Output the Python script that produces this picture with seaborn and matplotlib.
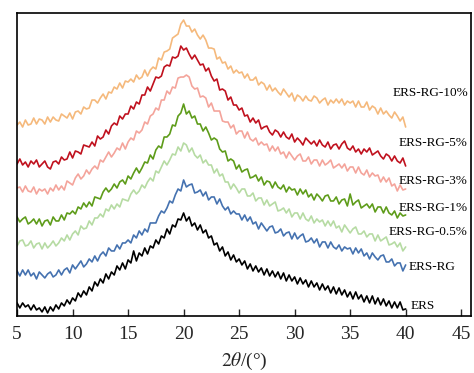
import numpy as np
import pandas as pd
import seaborn as sns
import matplotlib.pyplot as plt

# XRD patterns (intensity, arbitrary units, every 0.25 deg from 5 to 40)
ers = [13, 8, 13, 9, 11, 6, 11, 6, 8, 4, 9, 3, 9, 5, 11, 7, 13, 10, 16, 12,
       18, 15, 23, 19, 25, 21, 29, 25, 34, 30, 37, 33, 42, 37, 44, 41, 50, 46, 53, 47,
       56, 53, 65, 55, 63, 60, 68, 62, 70, 68, 76, 72, 80, 78, 87, 82, 91, 89, 97, 96,
       103, 95, 99, 90, 93, 86, 91, 83, 86, 78, 80, 71, 73, 65, 69, 60, 64, 56, 61, 54,
       57, 51, 55, 47, 52, 45, 50, 44, 48, 41, 47, 40, 45, 39, 44, 37, 43, 35, 41, 35,
       39, 32, 38, 32, 36, 29, 35, 29, 33, 26, 32, 26, 30, 23, 29, 22, 28, 21, 26, 19,
       24, 17, 24, 17, 21, 14, 20, 13, 20, 12, 18, 11, 17, 10, 15, 8, 14, 8, 14, 6, 7]
ers_rg = [45, 40, 46, 41, 46, 40, 43, 37, 44, 41, 38, 42, 44, 39, 41, 46, 41, 46, 48, 43,
          51, 47, 51, 55, 49, 52, 57, 54, 60, 55, 61, 64, 60, 68, 65, 65, 71, 67, 73, 73,
          76, 73, 81, 78, 85, 81, 87, 84, 93, 93, 93, 100, 105, 103, 108, 115, 113, 121, 127, 125,
          136, 129, 131, 132, 123, 124, 126, 120, 124, 116, 119, 119, 112, 117, 110, 106, 109, 102, 105, 102,
          102, 96, 101, 95, 99, 92, 94, 87, 93, 89, 85, 89, 90, 83, 84, 87, 80, 83, 84, 77,
          83, 77, 80, 82, 74, 75, 78, 73, 77, 69, 74, 74, 68, 74, 69, 67, 71, 65, 69, 67,
          68, 62, 68, 63, 67, 60, 63, 57, 63, 59, 56, 60, 61, 54, 54, 57, 50, 53, 53, 45, 51]
ers_rg_05 = [70, 75, 76, 70, 71, 75, 68, 72, 73, 67, 73, 68, 71, 75, 70, 73, 78, 75, 81, 76,
             82, 85, 81, 90, 87, 88, 95, 91, 98, 98, 102, 99, 107, 105, 111, 107, 112, 109, 117, 116,
             115, 122, 126, 122, 125, 131, 128, 134, 138, 135, 145, 143, 149, 155, 151, 156, 162, 161, 169, 165,
             173, 171, 164, 168, 161, 158, 161, 153, 156, 151, 151, 143, 147, 140, 142, 134, 134, 127, 132, 128,
             123, 127, 127, 120, 120, 123, 115, 118, 118, 111, 116, 110, 112, 114, 105, 106, 108, 103, 107, 99,
             103, 103, 97, 103, 97, 95, 100, 93, 97, 94, 96, 90, 95, 90, 95, 88, 90, 84, 91, 87,
             83, 87, 89, 82, 82, 85, 79, 82, 82, 75, 81, 75, 77, 79, 71, 72, 74, 69, 73, 65, 69]
ers_rg_1 = [99, 94, 97, 99, 92, 94, 97, 92, 97, 90, 95, 96, 91, 99, 95, 95, 101, 96, 103, 102,
            105, 102, 109, 107, 113, 109, 114, 110, 119, 118, 117, 124, 128, 124, 127, 132, 128, 134, 136, 132,
            140, 137, 143, 148, 143, 148, 154, 153, 161, 157, 166, 170, 168, 179, 179, 182, 191, 190, 200, 203,
            212, 202, 205, 198, 200, 192, 192, 185, 189, 183, 176, 178, 176, 167, 164, 165, 155, 157, 155, 147,
            151, 144, 146, 147, 138, 139, 141, 135, 139, 131, 135, 134, 128, 134, 129, 127, 131, 124, 129, 126,
            127, 121, 127, 122, 126, 119, 122, 116, 122, 119, 115, 120, 121, 115, 115, 119, 112, 116, 117, 110,
            122, 111, 114, 116, 108, 110, 112, 108, 112, 104, 109, 109, 103, 109, 103, 101, 105, 98, 103, 100, 101]
ers_rg_3 = [128, 129, 124, 130, 125, 124, 129, 122, 127, 125, 127, 122, 128, 125, 131, 126, 130, 126, 135, 133,
            131, 138, 142, 137, 140, 146, 142, 147, 150, 147, 156, 154, 159, 164, 159, 163, 168, 166, 173, 167,
            174, 178, 176, 185, 183, 186, 194, 192, 200, 202, 208, 206, 216, 216, 225, 222, 229, 228, 238, 239,
            239, 241, 239, 230, 227, 228, 219, 220, 218, 209, 213, 205, 205, 205, 195, 194, 194, 188, 191, 182,
            185, 185, 178, 184, 177, 175, 178, 171, 174, 171, 172, 165, 170, 165, 169, 162, 164, 158, 164, 160,
            156, 160, 162, 155, 155, 159, 152, 156, 156, 150, 156, 151, 153, 156, 148, 150, 152, 148, 152, 145,
            149, 149, 143, 149, 143, 141, 146, 139, 143, 140, 141, 134, 139, 134, 138, 130, 132, 125, 131, 126, 127]
ers_rg_5 = [152, 157, 151, 154, 149, 155, 152, 156, 149, 152, 155, 149, 147, 154, 155, 152, 159, 156, 157, 164,
            158, 165, 164, 162, 171, 170, 169, 174, 170, 180, 177, 179, 186, 182, 190, 193, 191, 200, 197, 202,
            202, 210, 207, 214, 212, 221, 221, 229, 225, 232, 239, 238, 240, 249, 251, 250, 259, 258, 260, 270,
            266, 268, 262, 257, 261, 256, 251, 252, 245, 248, 240, 235, 237, 226, 227, 225, 216, 219, 211, 211,
            206, 208, 200, 201, 194, 198, 193, 196, 187, 189, 190, 184, 181, 186, 184, 179, 184, 179, 177, 182,
            174, 178, 175, 171, 178, 175, 172, 175, 170, 176, 171, 169, 174, 167, 171, 172, 167, 172, 175, 168,
            166, 170, 164, 167, 162, 167, 164, 168, 161, 163, 165, 160, 157, 162, 160, 155, 160, 155, 153, 158, 150]
ers_rg_10 = [191, 194, 189, 196, 191, 192, 198, 192, 197, 196, 192, 199, 194, 199, 196, 195, 202, 200, 198, 203,
             197, 204, 205, 202, 209, 207, 208, 216, 216, 213, 218, 222, 217, 224, 223, 229, 227, 233, 228, 235,
             234, 237, 234, 241, 237, 239, 246, 240, 246, 249, 247, 258, 256, 264, 265, 267, 278, 280, 282, 292,
             296, 290, 290, 284, 287, 281, 277, 281, 276, 268, 268, 267, 257, 259, 253, 254, 247, 250, 243, 246,
             243, 244, 238, 242, 236, 236, 239, 231, 234, 232, 226, 231, 225, 228, 224, 221, 227, 223, 219, 223,
             215, 221, 219, 215, 220, 216, 215, 220, 218, 213, 216, 218, 211, 216, 213, 217, 213, 217, 211, 215,
             213, 215, 209, 215, 209, 209, 214, 206, 210, 208, 202, 208, 202, 205, 201, 198, 204, 200, 195, 199, 189]

samples = ["ERS", "ERS-RG", "ERS-RG-0.5%", "ERS-RG-1%", "ERS-RG-3%", "ERS-RG-5%", "ERS-RG-10%"]
series = [ers, ers_rg, ers_rg_05, ers_rg_1, ers_rg_3, ers_rg_5, ers_rg_10]
colors = ["#000000", "#4572B0", "#B6DBA3", "#5E9C1A", "#F4A49B", "#C0111E", "#F5B97C"]

# label anchors (2theta, intensity)
label_x = [40.45, 40.25, 38.45, 39.35, 39.35, 39.35, 38.8]
label_y = [10, 49, 84, 108, 135, 173, 223]

rows = []
for name, vals in zip(samples, series):
    tt = np.linspace(5, 40, len(vals))
    for t, v in zip(tt, vals):
        rows.append((name, t, v))
df = pd.DataFrame(rows, columns=["sample", "two_theta", "intensity"])

sns.set_theme(style="ticks")
plt.rcParams["font.family"] = ["Liberation Serif", "DejaVu Serif"]
plt.rcParams["mathtext.fontset"] = "stix"

fig = plt.figure(figsize=(4.74, 3.73), dpi=100)
ax = fig.add_axes([0.036, 0.153, 0.958, 0.812])

sns.lineplot(data=df, x="two_theta", y="intensity", hue="sample", hue_order=samples,
             palette=colors, linewidth=1.2, legend=False, ax=ax)

for name, lx, ly in zip(samples, label_x, label_y):
    ax.text(lx, ly, name, fontsize=9.5, va="center", ha="left", color="black")

ax.set_xlim(5, 45.9)
ax.set_ylim(0, 303)
ax.set_xticks(range(5, 46, 5))
ax.set_yticks([])
ax.tick_params(axis="x", direction="in", length=5, width=1, labelsize=14, pad=7, top=False)
for s in ax.spines.values():
    s.set_linewidth(1.2)
    s.set_color("black")
ax.set_xlabel(r"$\mathit{2\theta}$/(°)", fontsize=14, labelpad=6)
ax.set_ylabel("")

fig.savefig("out.png", dpi=100)
